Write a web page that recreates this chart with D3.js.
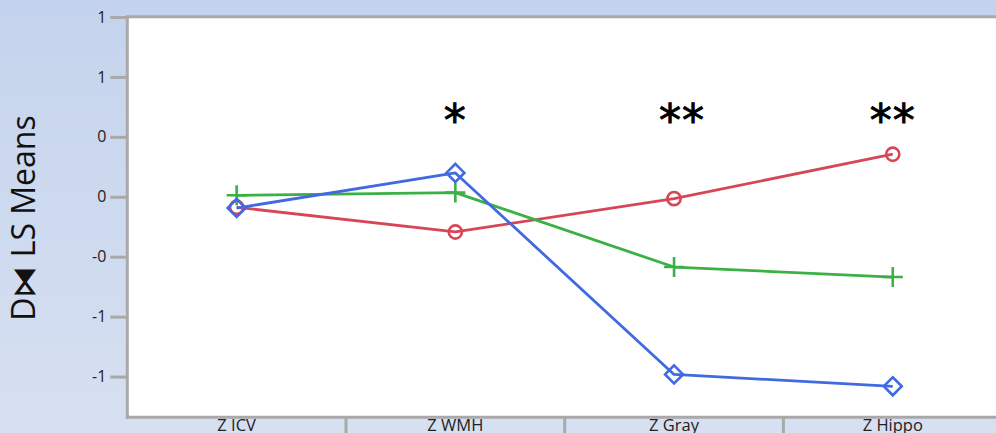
<!DOCTYPE html>
<html>
<head>
<meta charset="utf-8">
<script src="https://cdn.jsdelivr.net/npm/d3@7/dist/d3.min.js"></script>
<style>
  html, body { margin: 0; padding: 0; background: #fff; }
  svg { display: block; }
</style>
</head>
<body>
<svg id="chart" width="996" height="433"></svg>
<script>
// Measures along the x axis
const categories = ["Z ICV", "Z WMH", "Z Gray", "Z Hippo"];

// LS means per group
const seriesRed   = [-0.07, -0.235, -0.012, 0.284];
const seriesGreen = [0.01, 0.028, -0.469, -0.536];
const seriesBlue  = [-0.075, 0.159, -1.186, -1.265];

// Significance markers per measure
const stars = ["", "*", "**", "**"];

// Y axis ticks and their printed labels
const tickValues = [1.2, 0.8, 0.4, 0, -0.4, -0.8, -1.2];
const tickLabels = ["1", "1", "0", "0", "-0", "-1", "-1"];

const W = 996, H = 433;
const plot = { left: 127.3, top: 16.7, right: 996, bottom: 417.3 };
const gray = "#a9a9a9";

const svg = d3.select("#chart");

// background gradient
const defs = svg.append("defs");
const grad = defs.append("linearGradient").attr("id", "bg").attr("x1", 0).attr("y1", 0).attr("x2", 0).attr("y2", 1);
grad.append("stop").attr("offset", "0%").attr("stop-color", "#c4d3ed");
grad.append("stop").attr("offset", "100%").attr("stop-color", "#d7e0f1");
svg.append("rect").attr("width", W).attr("height", H).attr("fill", "url(#bg)");

// plot area
svg.append("rect")
  .attr("x", plot.left).attr("y", plot.top)
  .attr("width", plot.right - plot.left).attr("height", plot.bottom - plot.top)
  .attr("fill", "#ffffff");

const x = d3.scaleBand().domain(categories).range([plot.left, plot.left + 4 * 218.7]).padding(0);
const y = d3.scaleLinear().domain([-1.46, 1.2]).range([415.5, 17]);
const cx = c => x(c) + x.bandwidth() / 2;

// y axis
const yAxis = d3.axisLeft(y)
  .tickValues(tickValues)
  .tickFormat((d, i) => tickLabels[i])
  .tickSize(17)
  .tickPadding(4);
const gy = svg.append("g").attr("transform", `translate(${plot.left},0)`).call(yAxis);
gy.select(".domain").remove();
gy.attr("font-size", null).attr("font-family", null);
gy.selectAll(".tick line").attr("stroke", gray).attr("stroke-width", 3);
gy.selectAll(".tick text")
  .attr("fill", "#222")
  .style("font-family", "'Open Sans', sans-serif")
  .style("font-size", "16px");

// frame lines
svg.append("line").attr("x1", plot.left).attr("x2", W).attr("y1", plot.top).attr("y2", plot.top)
  .attr("stroke", gray).attr("stroke-width", 3);
svg.append("line").attr("x1", plot.left).attr("x2", plot.left).attr("y1", plot.top - 1.5).attr("y2", plot.bottom + 1.5)
  .attr("stroke", gray).attr("stroke-width", 3);
svg.append("line").attr("x1", plot.left - 1.5).attr("x2", W).attr("y1", plot.bottom).attr("y2", plot.bottom)
  .attr("stroke", gray).attr("stroke-width", 3);

// x axis: separators between categories and labels
const xAxis = d3.axisBottom(x).tickSize(0).tickPadding(0);
const gx = svg.append("g").attr("transform", `translate(0,${plot.bottom})`).call(xAxis);
gx.select(".domain").remove();
gx.attr("font-size", null).attr("font-family", null);
gx.selectAll(".tick text")
  .attr("fill", "#222")
  .attr("dy", null)
  .attr("y", 14)
  .style("font-family", "'Open Sans', sans-serif")
  .style("font-size", "16.5px");
svg.append("g").selectAll("line")
  .data(categories.slice(1))
  .join("line")
  .attr("x1", d => x(d)).attr("x2", d => x(d))
  .attr("y1", plot.bottom).attr("y2", H)
  .attr("stroke", gray).attr("stroke-width", 3);

// y title
svg.append("text")
  .attr("transform", "translate(35,218) rotate(-90)")
  .attr("text-anchor", "middle")
  .attr("fill", "#111")
  .style("font-family", "'Open Sans', sans-serif")
  .style("font-size", "32px")
  .text("D\u29D2 LS Means");

// series lines and markers
const series = [
  { values: seriesRed, color: "#d74657", marker: "circle" },
  { values: seriesGreen, color: "#3bb044", marker: "plus" },
  { values: seriesBlue, color: "#4169e1", marker: "diamond" }
];
const line = d3.line().x((d, i) => cx(categories[i])).y(d => y(d));

series.forEach(s => {
  svg.append("path")
    .attr("d", line(s.values))
    .attr("fill", "none")
    .attr("stroke", s.color)
    .attr("stroke-width", 2.8)
    .attr("stroke-linejoin", "round");
});

series.forEach(s => {
  const g = svg.append("g");
  s.values.forEach((v, i) => {
    const px = cx(categories[i]), py = y(v);
    if (s.marker === "circle") {
      g.append("circle").attr("cx", px).attr("cy", py).attr("r", 6.6)
        .attr("fill", "none").attr("stroke", s.color).attr("stroke-width", 2.6);
    } else if (s.marker === "plus") {
      g.append("path")
        .attr("d", `M${px - 10},${py}H${px + 10}M${px},${py - 10}V${py + 10}`)
        .attr("stroke", s.color).attr("stroke-width", 2.6).attr("fill", "none");
    } else {
      g.append("path")
        .attr("d", `M${px},${py - 9}L${px + 9},${py}L${px},${py + 9}L${px - 9},${py}Z`)
        .attr("stroke", s.color).attr("stroke-width", 2.6).attr("fill", "none");
    }
  });
});

// significance asterisks
svg.append("g").selectAll("text")
  .data(stars)
  .join("text")
  .attr("x", (d, i) => cx(categories[i]) + (d.length > 1 && i === 2 ? 8 : 0))
  .attr("y", 136)
  .attr("text-anchor", "middle")
  .attr("fill", "#000")
  .attr("stroke", "#000")
  .attr("stroke-width", 0.9)
  .style("font-family", "'DejaVu Sans', sans-serif")
  .style("font-size", "44px")
  .style("letter-spacing", "1px")
  .text(d => d);
</script>
</body>
</html>
